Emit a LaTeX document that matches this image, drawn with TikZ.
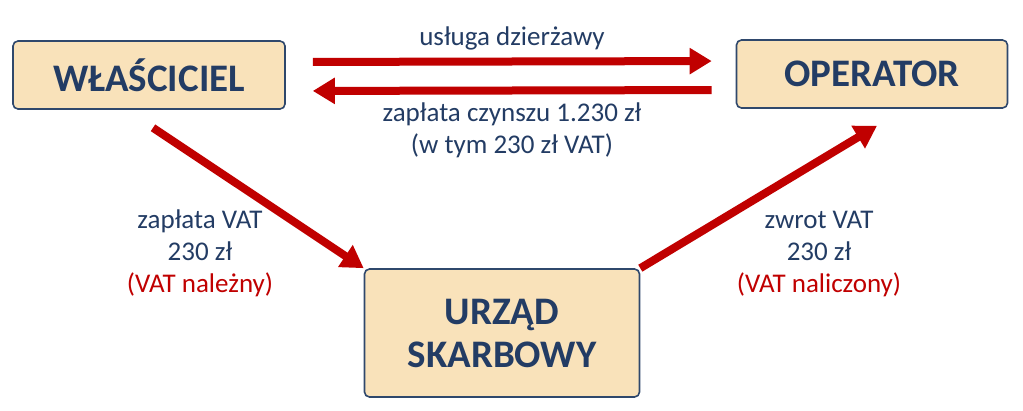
\documentclass[tikz,border=0pt]{standalone}
\usepackage{fontspec}
\setmainfont{Carlito}
\usepackage{xcolor}
\usepackage{tikz}
\usetikzlibrary{arrows.meta,positioning,calc}

\definecolor{boxfill}{RGB}{249,226,186}
\definecolor{boxline}{RGB}{47,72,108}
\definecolor{textblue}{RGB}{35,60,100}
\definecolor{arrowred}{RGB}{192,0,0}

\begin{document}
\begin{tikzpicture}[
    x=1pt, y=-1pt,
    party/.style={rectangle, draw=boxline, fill=boxfill, line width=1.6pt, rounded corners=5pt, inner sep=0pt, text centered, align=center, text=textblue, font=\fontsize{39}{43}\selectfont\bfseries},
    label/.style={anchor=base, align=center, text=textblue, font=\fontsize{27}{32}\selectfont},
    arrow/.style={-{Triangle[length=22pt,width=25pt]}, line width=8pt, draw=arrowred}
]
    \useasboundingbox (0,0) rectangle (1023,410);

    % Parties
    \node[party, minimum width=272pt, minimum height=68pt] (owner) at (149,75) {WŁAŚCICIEL};
    \node[party, minimum width=271pt, minimum height=68pt] (operator) at (872,74) {OPERATOR};
    \node[party, minimum width=275pt, minimum height=128pt] (office) at (502,333) {URZĄD\\SKARBOWY};

    % Arrows
    \draw[arrow, shorten <=27pt, shorten >=24pt] ([yshift=13pt]owner.east) -- ([yshift=13pt]operator.west);
    \draw[arrow, shorten <=24pt, shorten >=27pt] ([yshift=-16pt]operator.west) -- ([yshift=-16pt]owner.east);
    \draw[arrow] ([xshift=4pt,yshift=-18pt]owner.south) -- (office.north west);
    \draw[arrow] (office.north east) -- ([xshift=5pt,yshift=-17pt]operator.south);

    % Labels (anchored at the last baseline)
    \node[label] (lease) at (512,45) {usługa dzierżawy};
    \node[label] (rent) at (512,153) {zapłata czynszu 1.230 zł\\(w tym 230 zł VAT)};
    \node[label] (vatout) at (200,292) {zapłata VAT\\230 zł\\\textcolor{arrowred}{(VAT należny)}};
    \node[label] (vatin) at (819,292) {zwrot VAT\\230 zł\\\textcolor{arrowred}{(VAT naliczony)}};
\end{tikzpicture}
\end{document}
